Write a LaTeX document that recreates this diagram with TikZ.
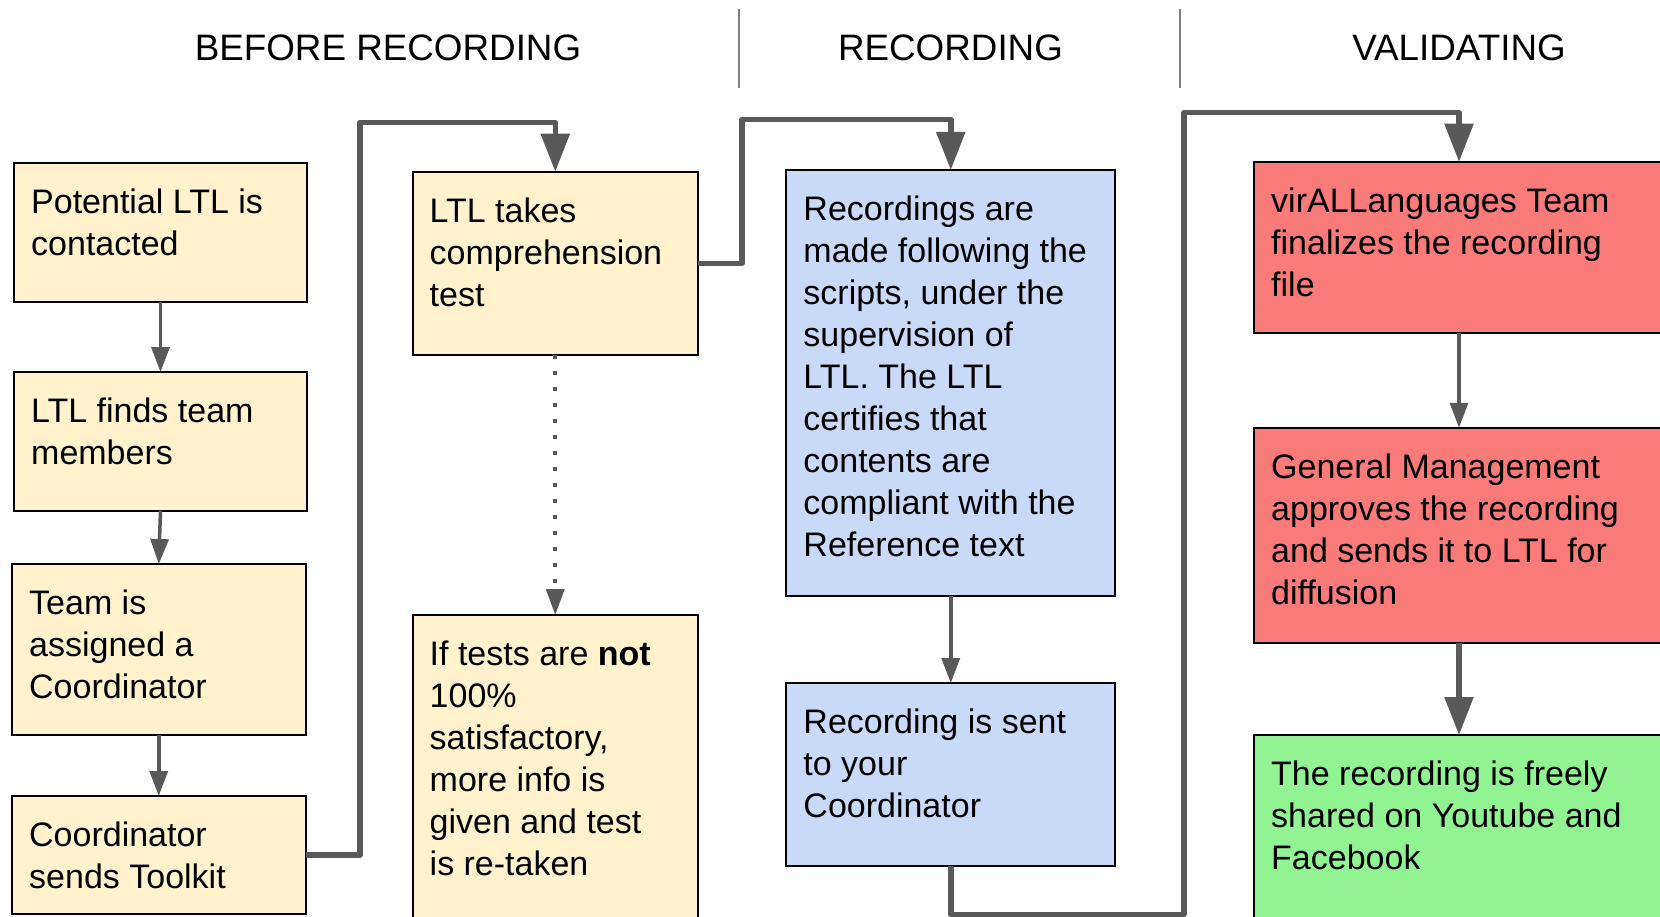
\documentclass[tikz,border=0pt]{standalone}
\usepackage{fontspec}
\setmainfont{Liberation Sans}
\usetikzlibrary{arrows.meta}

\definecolor{paleyellow}{HTML}{FFF2CC}
\definecolor{paleblue}{HTML}{C9DAF8}
\definecolor{softred}{RGB}{248,123,121}
\definecolor{softgreen}{RGB}{145,243,145}
\definecolor{linkgray}{HTML}{595959}
\definecolor{rulegray}{HTML}{7F7F7F}

% body text of a box: first baseline is the node's base anchor
\newcommand\boxtext[1]{\parbox[t]{420pt}{\fontsize{34}{42}\selectfont\raggedright #1}}

\begin{document}
\begin{tikzpicture}[x=1pt,y=-1pt,
  stepbox/.style={draw=black, line width=2pt, rectangle, inner sep=0pt, outer sep=0pt},
  yellowbox/.style={stepbox, fill=paleyellow},
  bluebox/.style={stepbox, fill=paleblue},
  redbox/.style={stepbox, fill=softred},
  greenbox/.style={stepbox, fill=softgreen},
  label text/.style={anchor=base west, inner sep=0pt},
  phase/.style={anchor=base, inner sep=0pt, font=\fontsize{36.8}{44}\selectfont},
  divider/.style={draw=rulegray, line width=2pt},
  thinlink/.style={draw=linkgray, line width=3.5pt,
    -{Triangle[length=25pt,width=18pt]}},
  thicklink/.style={draw=linkgray, line width=5.5pt, line join=round,
    -{Triangle[length=38pt,width=28pt]}},
  dottedlink/.style={draw=linkgray, line width=3.6pt, dash pattern=on 3.6pt off 12.4pt,
    -{Triangle[length=26pt,width=18pt]}},
]
\useasboundingbox (0,0) rectangle (1660,917);
\clip (0,0) rectangle (1660,917);

% phase headings and separators
\node[phase] (h1) at (388,61) {BEFORE RECORDING};
\node[phase] (h2) at (950.5,61) {RECORDING};
\node[phase] (h3) at (1459,61) {VALIDATING};
\coordinate (s1a) at (739,9); \coordinate (s1b) at (739,88);
\coordinate (s2a) at (1180,9); \coordinate (s2b) at (1180,88);
\draw[divider] (s1a) -- (s1b);
\draw[divider] (s2a) -- (s2b);

% boxes (x from left edge, y from top edge)
\node[yellowbox, minimum width=293pt, minimum height=139pt] (A) at (160.5,232.5) {};
\node[yellowbox, minimum width=293pt, minimum height=138.5pt] (B) at (160.5,441.25) {};
\node[yellowbox, minimum width=293.5pt, minimum height=171pt] (C) at (158.75,649.5) {};
\node[yellowbox, minimum width=293.5pt, minimum height=118pt] (D) at (158.75,855) {};
\node[yellowbox, minimum width=285.5pt, minimum height=183.5pt] (E) at (555.25,263.5) {};
\node[yellowbox, minimum width=285.5pt, minimum height=320pt] (F) at (555.25,775) {};
\node[bluebox, minimum width=329pt, minimum height=426pt] (G) at (950.75,383) {};
\node[bluebox, minimum width=329pt, minimum height=183pt] (H) at (950.75,774.5) {};
\node[redbox, minimum width=410pt, minimum height=171.5pt] (I) at (1459,247.5) {};
\node[redbox, minimum width=410pt, minimum height=215pt] (J) at (1459,535.25) {};
\node[greenbox, minimum width=410pt, minimum height=200pt] (K) at (1459,835) {};

% box texts
\node[label text] (At) at ([shift={(17,50.5)}]A.north west) {\boxtext{Potential LTL is\\contacted}};
\node[label text] (Bt) at ([shift={(17,50.5)}]B.north west) {\boxtext{LTL finds team\\members}};
\node[label text] (Ct) at ([shift={(17,50.5)}]C.north west) {\boxtext{Team is\\assigned a\\Coordinator}};
\node[label text] (Dt) at ([shift={(17,50.5)}]D.north west) {\boxtext{Coordinator\\sends Toolkit}};
\node[label text] (Et) at ([shift={(17,50.5)}]E.north west) {\boxtext{LTL takes\\comprehension\\test}};
\node[label text] (Ft) at ([shift={(17,50.5)}]F.north west) {\boxtext{If tests are \textbf{not}\\100\%\\satisfactory,\\more info is\\given and test\\is re-taken}};
\node[label text] (Gt) at ([shift={(17,50.5)}]G.north west) {\boxtext{Recordings are\\made following the\\scripts, under the\\supervision of\\LTL. The LTL\\certifies that\\contents are\\compliant with the\\Reference text}};
\node[label text] (Ht) at ([shift={(17,50.5)}]H.north west) {\boxtext{Recording is sent\\to your\\Coordinator}};
\node[label text] (It) at ([shift={(17,50.5)}]I.north west) {\boxtext{virALLanguages Team\\finalizes the recording\\file}};
\node[label text] (Jt) at ([shift={(17,50.5)}]J.north west) {\boxtext{General Management\\approves the recording\\and sends it to LTL for\\diffusion}};
\node[label text] (Kt) at ([shift={(17,50.5)}]K.north west) {\boxtext{The recording is freely\\shared on Youtube and\\Facebook}};

% bend points of the long connectors
\coordinate (de) at (360,122.3);
\coordinate (eg) at (742,119.6);
\coordinate (hi1) at (1184,914.5);
\coordinate (hi2) at (1184,112.7);

% connectors
\draw[thinlink] (A.south) -- (B.north);
\draw[thinlink] (B.south) -- (C.north);
\draw[thinlink] (C.south) -- (D.north);
\draw[thicklink] (D.east) -| (de) -| (E.north);
\draw[dottedlink] (E.south) -- (F.north);
\draw[thicklink] (E.east) -| (eg) -| (G.north);
\draw[thinlink] (G.south) -- (H.north);
\draw[thicklink] (H.south) |- (hi1) -- (hi2) -| (I.north);
\draw[thinlink] (I.south) -- (J.north);
\draw[thicklink] (J.south) -- (K.north);
\end{tikzpicture}
\end{document}
